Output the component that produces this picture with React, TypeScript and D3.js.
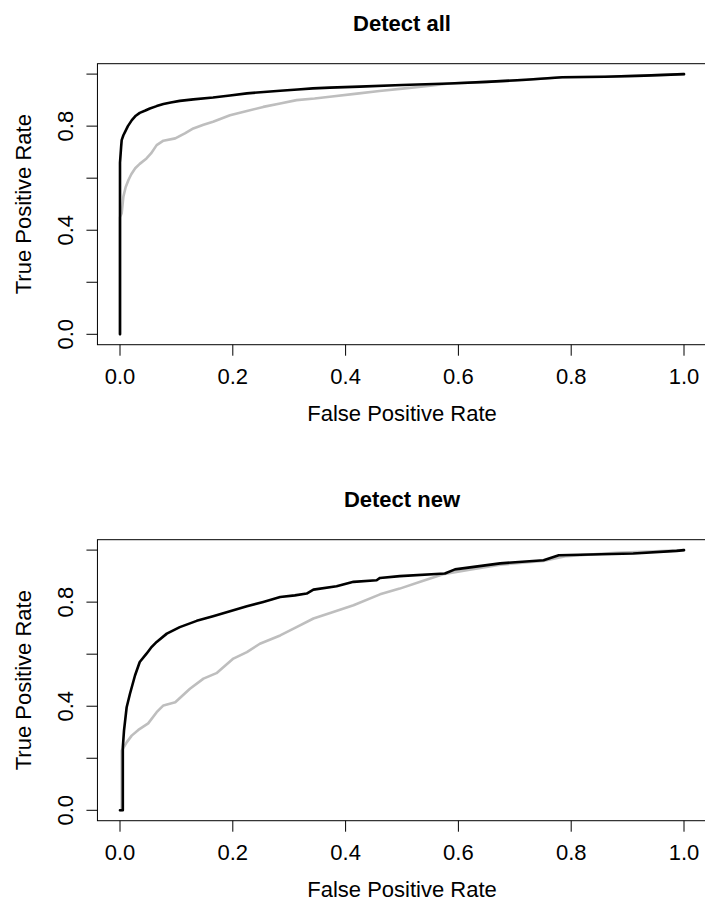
import * as d3 from 'd3';
import { useEffect, useRef } from 'react';

// ROC curves (false positive rate / true positive rate)
const allBlackFpr = [0, 0, 0.002, 0.003, 0.006, 0.009, 0.014, 0.021, 0.028, 0.035, 0.045, 0.053, 0.065, 0.077, 0.09, 0.106, 0.13, 0.165, 0.195, 0.225, 0.255, 0.284, 0.315, 0.342, 0.372, 0.425, 0.5, 0.584, 0.65, 0.72, 0.784, 0.86, 0.93, 1];
const allBlackTpr = [0, 0.66, 0.72, 0.746, 0.765, 0.778, 0.8, 0.823, 0.84, 0.851, 0.86, 0.868, 0.877, 0.885, 0.891, 0.897, 0.903, 0.91, 0.918, 0.926, 0.931, 0.936, 0.941, 0.945, 0.948, 0.952, 0.958, 0.964, 0.97, 0.978, 0.988, 0.99, 0.994, 1];

const allGreyFpr = [0, 0, 0.003, 0.006, 0.01, 0.015, 0.02, 0.027, 0.035, 0.047, 0.055, 0.065, 0.077, 0.098, 0.115, 0.13, 0.148, 0.165, 0.195, 0.225, 0.254, 0.284, 0.313, 0.345, 0.372, 0.42, 0.46, 0.505, 0.55, 0.584, 0.65, 0.72, 0.784, 0.86, 0.93, 1];
const allGreyTpr = [0, 0.45, 0.465, 0.529, 0.565, 0.593, 0.615, 0.638, 0.655, 0.676, 0.695, 0.727, 0.744, 0.753, 0.772, 0.791, 0.805, 0.817, 0.842, 0.858, 0.874, 0.887, 0.9, 0.906, 0.913, 0.925, 0.935, 0.945, 0.955, 0.964, 0.97, 0.978, 0.988, 0.99, 0.994, 1];

const newBlackFpr = [0, 0.005, 0.005, 0.0071, 0.0118, 0.0177, 0.0266, 0.035, 0.047, 0.055, 0.065, 0.083, 0.106, 0.136, 0.165, 0.195, 0.225, 0.254, 0.284, 0.31, 0.331, 0.343, 0.384, 0.414, 0.455, 0.461, 0.496, 0.576, 0.594, 0.674, 0.751, 0.778, 0.91, 0.987, 1];
const newBlackTpr = [0, 0, 0.242, 0.306, 0.396, 0.448, 0.518, 0.57, 0.602, 0.625, 0.647, 0.679, 0.704, 0.728, 0.746, 0.765, 0.784, 0.801, 0.82, 0.826, 0.833, 0.848, 0.861, 0.878, 0.884, 0.893, 0.9, 0.91, 0.926, 0.949, 0.961, 0.98, 0.987, 0.997, 1];

const newGreyFpr = [0, 0.003, 0.003, 0.0118, 0.0207, 0.0325, 0.05, 0.065, 0.077, 0.098, 0.124, 0.148, 0.171, 0.201, 0.225, 0.248, 0.284, 0.313, 0.343, 0.378, 0.414, 0.461, 0.496, 0.535, 0.573, 0.62, 0.674, 0.75, 0.792, 0.88, 0.95, 1];
const newGreyTpr = [0, 0, 0.229, 0.261, 0.287, 0.309, 0.334, 0.377, 0.403, 0.415, 0.467, 0.506, 0.527, 0.583, 0.608, 0.64, 0.672, 0.704, 0.737, 0.762, 0.788, 0.83, 0.852, 0.88, 0.907, 0.925, 0.944, 0.958, 0.977, 0.99, 0.995, 1];

const titles = ['Detect all', 'Detect new'];
const xTicks = [0, 0.2, 0.4, 0.6, 0.8, 1];
const yTicks = [0, 0.2, 0.4, 0.6, 0.8, 1];
const yLabelTicks = [0, 0.4, 0.8];

export default function App() {
  const ref = useRef<SVGSVGElement>(null);

  useEffect(() => {
    const svg = d3.select(ref.current);
    svg.selectAll('*').remove();

    const width = 705, height = 904;
    const font = "'Liberation Sans', Arial, Helvetica, sans-serif";
    const fs = 22;

    const panels = [
      { top: 0, grey: [allGreyFpr, allGreyTpr], black: [allBlackFpr, allBlackTpr] },
      { top: 476, grey: [newGreyFpr, newGreyTpr], black: [newBlackFpr, newBlackTpr] },
    ];

    const x = d3.scaleLinear().domain([0, 1]).range([120, 684]);

    panels.forEach((p, i) => {
      const g = svg.append('g').attr('transform', `translate(0,${p.top})`);
      const y = d3.scaleLinear().domain([0, 1]).range([334.3, 74.1]);

      const x0 = x(-0.04), x1 = x(1.04), y0 = y(-0.04), y1 = y(1.04);

      // data
      const line = d3.line<[number, number]>().x(d => x(d[0])).y(d => y(d[1]));
      const draw = (s: number[][], color: string) => {
        const pts = s[0].map((v, k) => [v, s[1][k]] as [number, number]);
        g.append('path')
          .attr('d', line(pts))
          .attr('fill', 'none')
          .attr('stroke', color)
          .attr('stroke-width', 2.6)
          .attr('stroke-linejoin', 'round')
          .attr('stroke-linecap', 'round');
      };
      draw(p.grey, '#bebebe');
      draw(p.black, '#000');

      // box
      g.append('rect')
        .attr('x', x0).attr('y', y1)
        .attr('width', x1 - x0).attr('height', y0 - y1)
        .attr('fill', 'none').attr('stroke', '#000').attr('stroke-width', 1);

      // x axis
      g.selectAll('.xt').data(xTicks).enter().append('line')
        .attr('x1', d => x(d)).attr('x2', d => x(d))
        .attr('y1', y0).attr('y2', y0 + 11)
        .attr('stroke', '#000');
      g.selectAll('.xl').data(xTicks).enter().append('text')
        .attr('x', d => x(d)).attr('y', y0 + 39)
        .attr('text-anchor', 'middle')
        .style('font-family', font).style('font-size', `${fs}px`)
        .text(d => d.toFixed(1));

      // y axis
      g.selectAll('.yt').data(yTicks).enter().append('line')
        .attr('x1', x0).attr('x2', x0 - 11)
        .attr('y1', d => y(d)).attr('y2', d => y(d))
        .attr('stroke', '#000');
      g.selectAll('.yl').data(yLabelTicks).enter().append('text')
        .attr('transform', d => `translate(73.3,${y(d)}) rotate(-90)`)
        .attr('text-anchor', 'middle')
        .style('font-family', font).style('font-size', `${fs}px`)
        .text(d => d.toFixed(1));

      // titles
      g.append('text')
        .attr('x', (x0 + x1) / 2).attr('y', 31)
        .attr('text-anchor', 'middle')
        .style('font-family', font).style('font-size', `${fs}px`).style('font-weight', 'bold')
        .text(titles[i]);
      g.append('text')
        .attr('x', (x0 + x1) / 2).attr('y', 421)
        .attr('text-anchor', 'middle')
        .style('font-family', font).style('font-size', `${fs}px`)
        .text('False Positive Rate');
      g.append('text')
        .attr('transform', `translate(31,${(y0 + y1) / 2}) rotate(-90)`)
        .attr('text-anchor', 'middle')
        .style('font-family', font).style('font-size', `${fs}px`)
        .text('True Positive Rate');
    });

    svg.attr('width', width).attr('height', height);
  }, []);

  return (
    <svg ref={ref} width={705} height={904}
      style={{ position: 'absolute', left: 0, top: 0, display: 'block', background: '#fff' }} />
  );
}
